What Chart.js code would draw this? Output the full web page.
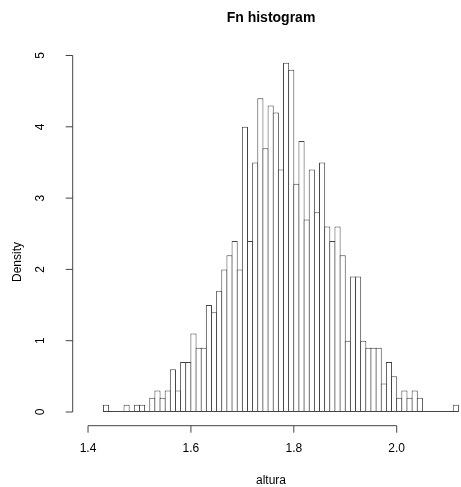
<!DOCTYPE html>
<html><head><meta charset="utf-8">
<script src="https://cdn.jsdelivr.net/npm/chart.js@4/dist/chart.umd.min.js"></script>
<style>html,body{margin:0;padding:0;background:#fff}#wrap{width:461px;height:487px;position:relative}</style>
</head><body><div id="wrap"><canvas id="c" width="461" height="487"></canvas></div>
<script>
// Histogram bins (lower edges), bin width 0.01
const binLefts = [1.43,1.44,1.45,1.46,1.47,1.48,1.49,1.50,1.51,1.52,1.53,1.54,1.55,1.56,1.57,1.58,1.59,
  1.60,1.61,1.62,1.63,1.64,1.65,1.66,1.67,1.68,1.69,1.70,1.71,1.72,1.73,1.74,1.75,1.76,1.77,1.78,1.79,
  1.80,1.81,1.82,1.83,1.84,1.85,1.86,1.87,1.88,1.89,1.90,1.91,1.92,1.93,1.94,1.95,1.96,1.97,1.98,1.99,
  2.00,2.01,2.02,2.03,2.04,2.05,2.06,2.07,2.08,2.09,2.10,2.11];
const binWidth = 0.01;
const density = [0.1,0,0,0,0.1,0,0.1,0.1,0,0.2,0.3,0.2,0.3,0.6,0.3,0.7,0.7,
  1.1,0.9,0.9,1.5,1.4,1.7,2.0,2.2,2.4,2.0,4.0,2.4,3.5,4.4,3.7,4.3,4.2,3.4,4.9,4.8,
  3.2,3.8,2.7,3.4,2.8,3.5,2.6,2.4,2.6,2.2,1.0,1.9,1.9,1.0,0.9,0.9,0.9,0.4,0.7,0.5,
  0.2,0.3,0.2,0.3,0.2,0,0,0,0,0,0,0.1];
const xTicks = [1.4,1.6,1.8,2.0];
const xTickLabels = ["1.4","1.6","1.8","2.0"];
const yTicks = [0,1,2,3,4,5];
const yTickLabels = ["0","1","2","3","4","5"];
const titleText = "Fn histogram";
const xTitle = "altura";
const yTitle = "Density";

const FONT = '"Liberation Sans", Arial, Helvetica, sans-serif';
const LINE = '#444';

const rAxes = {
  id: 'rAxes',
  afterDatasetsDraw(chart) {
    const ctx = chart.ctx, xs = chart.scales.x, ys = chart.scales.y;
    ctx.save();
    ctx.strokeStyle = LINE; ctx.lineWidth = 1; ctx.fillStyle = '#000';
    // baseline under bins (zero-height bins are drawn as flat lines)
    const y0 = ys.getPixelForValue(0) - 0.5;
    ctx.beginPath();
    ctx.moveTo(xs.getPixelForValue(binLefts[0]), y0);
    ctx.lineTo(xs.getPixelForValue(binLefts[binLefts.length-1] + binWidth), y0);
    ctx.stroke();
    // x axis
    const ax = 425.7;
    ctx.beginPath();
    ctx.moveTo(xs.getPixelForValue(xTicks[0]), ax);
    ctx.lineTo(xs.getPixelForValue(xTicks[xTicks.length-1]), ax);
    xTicks.forEach(v => { const p = xs.getPixelForValue(v); ctx.moveTo(p, ax); ctx.lineTo(p, ax + 7); });
    ctx.stroke();
    ctx.font = '12px ' + FONT; ctx.textAlign = 'center'; ctx.textBaseline = 'middle';
    xTicks.forEach((v, i) => ctx.fillText(xTickLabels[i], xs.getPixelForValue(v), 449));
    ctx.fillText(xTitle, 271, 481);
    // y axis
    const ay = 72.7;
    ctx.beginPath();
    ctx.moveTo(ay, ys.getPixelForValue(yTicks[0]));
    ctx.lineTo(ay, ys.getPixelForValue(yTicks[yTicks.length-1]));
    yTicks.forEach(v => { const p = ys.getPixelForValue(v); ctx.moveTo(ay, p); ctx.lineTo(ay - 7, p); });
    ctx.stroke();
    yTicks.forEach((v, i) => {
      ctx.save(); ctx.translate(41, ys.getPixelForValue(v)); ctx.rotate(-Math.PI/2);
      ctx.fillText(yTickLabels[i], 0, 0); ctx.restore();
    });
    ctx.save(); ctx.translate(18, 262); ctx.rotate(-Math.PI/2);
    ctx.fillText(yTitle, 0, 0); ctx.restore();
    // title
    ctx.font = 'bold 14px ' + FONT;
    ctx.fillText(titleText, 271, 18);
    ctx.restore();
  }
};

new Chart(document.getElementById('c'), {
  type: 'bar',
  data: {
    datasets: [{
      data: binLefts.map((b, i) => ({ x: b + binWidth / 2, y: density[i] })),
      backgroundColor: '#ffffff',
      borderColor: LINE,
      borderWidth: 1,
      borderSkipped: false,
      categoryPercentage: 1,
      barPercentage: 1.194
    }]
  },
  options: {
    responsive: false,
    animation: false,
    devicePixelRatio: 1,
    layout: { padding: { left: 73, right: 0, top: 55.5, bottom: 75 } },
    plugins: { legend: { display: false }, tooltip: { enabled: false }, title: { display: false } },
    scales: {
      x: { type: 'linear', min: 1.3708, max: 2.125, display: false, offset: false },
      y: { type: 'linear', min: 0, max: 5, display: false }
    }
  },
  plugins: [rAxes]
});
</script>
</body></html>
